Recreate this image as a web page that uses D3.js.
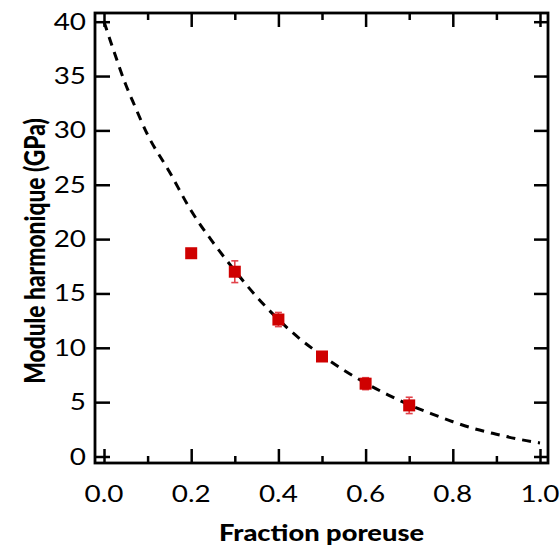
<!DOCTYPE html>
<html>
<head>
<meta charset="utf-8">
<script src="https://cdn.jsdelivr.net/npm/d3@7"></script>
<style>
  html, body { margin: 0; padding: 0; background: #fff; }
  svg { display: block; }
  text { font-family: Lato, "Open Sans", sans-serif; fill: #000; }
</style>
</head>
<body>
<svg id="chart" width="560" height="548"></svg>
<script>
// ---- data ----
const porosity = [0.2, 0.3, 0.4, 0.5, 0.6, 0.7];
const modulus  = [18.7, 17.0, 12.6, 9.2, 6.7, 4.7];
const modErr   = [0.3, 1.0, 0.65, 0.3, 0.55, 0.75];

// dashed model curve
const curveX = [0, 0.02, 0.05, 0.07, 0.1, 0.15, 0.2, 0.25, 0.3, 0.35, 0.4, 0.45, 0.5, 0.55, 0.6, 0.65, 0.7, 0.75, 0.8, 0.85, 0.9, 0.95, 1.0];
const curveY = [40, 37.6, 34.2, 32.3, 29.6, 26.2, 22.6, 19.7, 17.1, 14.7, 12.6, 10.8, 9.3, 7.95, 6.75, 5.7, 4.75, 3.95, 3.2, 2.55, 2.05, 1.6, 1.25];

const xMajor = [0, 0.2, 0.4, 0.6, 0.8, 1.0];
const xMinor = [0.1, 0.3, 0.5, 0.7, 0.9];
const xTickLabels = ["0.0", "0.2", "0.4", "0.6", "0.8", "1.0"];
const yMajor = [0, 5, 10, 15, 20, 25, 30, 35, 40];
const yTickLabels = ["0", "5", "10", "15", "20", "25", "30", "35", "40"];

const xTitle = "Fraction poreuse";
const yTitle = "Module harmonique (GPa)";

// ---- layout ----
const frame = { left: 95, right: 548, top: 13, bottom: 463 };
const x = d3.scaleLinear().domain([0, 1]).range([104, 540]);
const y = d3.scaleLinear().domain([0, 40]).range([456.5, 21.7]);
const sx = 1.24;  // horizontal stretch of the original typography

const svg = d3.select("#chart");

// dashed curve
const line = d3.line().x(d => x(d[0])).y(d => y(d[1])).curve(d3.curveMonotoneX);
svg.append("path")
  .datum(curveX.map((v, i) => [v, curveY[i]]))
  .attr("d", line)
  .attr("fill", "none")
  .attr("stroke", "#000")
  .attr("stroke-width", 3)
  .attr("stroke-dasharray", "9,7");

// error bars
const pts = porosity.map((p, i) => ({ p, m: modulus[i], e: modErr[i] }));
const eb = svg.append("g").attr("stroke", "#e2434b").attr("stroke-width", 1.6);
eb.selectAll("line.v").data(pts).join("line")
  .attr("x1", d => x(d.p)).attr("x2", d => x(d.p))
  .attr("y1", d => y(d.m - d.e)).attr("y2", d => y(d.m + d.e));
eb.selectAll("line.t").data(pts).join("line")
  .attr("x1", d => x(d.p) - 3.5).attr("x2", d => x(d.p) + 3.5)
  .attr("y1", d => y(d.m + d.e)).attr("y2", d => y(d.m + d.e));
eb.selectAll("line.b").data(pts).join("line")
  .attr("x1", d => x(d.p) - 3.5).attr("x2", d => x(d.p) + 3.5)
  .attr("y1", d => y(d.m - d.e)).attr("y2", d => y(d.m - d.e));

// square markers
const ms = 12;
svg.append("g").selectAll("rect").data(pts).join("rect")
  .attr("x", d => x(d.p) - ms / 2)
  .attr("y", d => y(d.m) - ms / 2)
  .attr("width", ms).attr("height", ms)
  .attr("fill", "#cf0000");

// ticks via d3 axes (inward)
function styleAxis(g) {
  g.select(".domain").remove();
  g.selectAll("text").remove();
  g.selectAll("line").attr("stroke", "#000").attr("stroke-width", 2.5);
}
svg.append("g").attr("transform", `translate(0,${frame.bottom})`)
  .call(d3.axisBottom(x).tickValues(xMajor).tickSize(-14)).call(styleAxis);
svg.append("g").attr("transform", `translate(0,${frame.bottom})`)
  .call(d3.axisBottom(x).tickValues(xMinor).tickSize(-7)).call(styleAxis);
svg.append("g").attr("transform", `translate(0,${frame.top})`)
  .call(d3.axisTop(x).tickValues(xMajor).tickSize(-14)).call(styleAxis);
svg.append("g").attr("transform", `translate(0,${frame.top})`)
  .call(d3.axisTop(x).tickValues(xMinor).tickSize(-7)).call(styleAxis);
svg.append("g").attr("transform", `translate(${frame.left},0)`)
  .call(d3.axisLeft(y).tickValues(yMajor).tickSize(-15)).call(styleAxis);
svg.append("g").attr("transform", `translate(${frame.right},0)`)
  .call(d3.axisRight(y).tickValues(yMajor).tickSize(-14)).call(styleAxis);

// frame
svg.append("rect")
  .attr("x", frame.left).attr("y", frame.top)
  .attr("width", frame.right - frame.left).attr("height", frame.bottom - frame.top)
  .attr("fill", "none").attr("stroke", "#000").attr("stroke-width", 2.8);

// tick labels
svg.append("g").selectAll("text").data(xMajor).join("text")
  .attr("transform", d => `translate(${x(d)},501.5) scale(${sx},1)`)
  .attr("text-anchor", "middle")
  .attr("font-size", 22.5)
  .text((d, i) => xTickLabels[i]);
svg.append("g").selectAll("text").data(yMajor).join("text")
  .attr("transform", d => `translate(86,${y(d) + 8}) scale(${sx},1)`)
  .attr("text-anchor", "end")
  .attr("font-size", 22.5)
  .text((d, i) => yTickLabels[i]);

// axis titles
svg.append("text")
  .attr("transform", `translate(${(frame.left + frame.right) / 2},540.5) scale(${sx},1)`)
  .attr("text-anchor", "middle")
  .attr("font-size", 22)
  .attr("font-weight", 900)
  .text(xTitle);
svg.append("text")
  .attr("transform", `translate(45,251) rotate(-90) scale(1.06,1.3)`)
  .attr("text-anchor", "middle")
  .attr("font-size", 21.5)
  .attr("font-weight", 900)
  .text(yTitle);
</script>
</body>
</html>
